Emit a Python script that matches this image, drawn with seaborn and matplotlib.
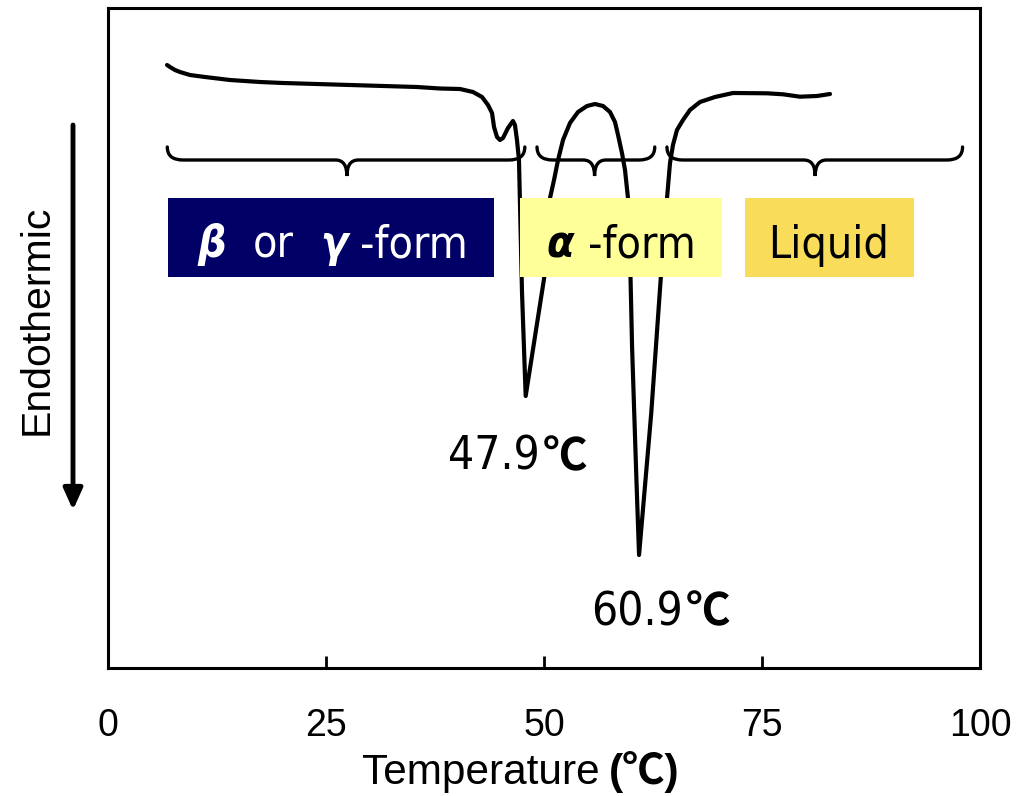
import matplotlib
matplotlib.use("Agg")
import matplotlib.pyplot as plt
import numpy as np
import pandas as pd
import seaborn as sns
from matplotlib.path import Path
from matplotlib.patches import PathPatch, Rectangle, FancyArrowPatch

# DSC heating trace (temperature in deg C, heat flow in arbitrary units, endotherm downward)
temperature = [6.77, 7.11, 7.68, 8.26, 9.40, 11.12, 13.99, 17.43, 20.07, 27.75,
               35.44, 38.07, 40.37, 41.86, 42.89, 43.58, 44.04, 44.27, 44.61, 44.95,
               45.30, 45.87, 46.44, 46.67, 46.90, 47.13, 47.48, 47.90, 50.34, 50.69,
               51.15, 51.61, 52.18, 52.98, 53.90, 54.93, 55.85, 56.77, 57.57, 58.14,
               58.49, 58.94, 59.29, 59.63, 59.80, 60.10, 60.60, 60.90, 62.30, 63.40,
               63.85, 64.11, 64.45, 64.79, 65.25, 65.94, 66.74, 67.89, 69.61, 71.67,
               75.57, 77.41, 79.36, 81.31, 82.80]
heat_flow = [60.3, 60.1, 59.8, 59.6, 59.3, 59.1, 58.8, 58.6, 58.5, 58.3,
             58.1, 57.95, 57.9, 57.6, 57.1, 56.3, 55.5, 54.1, 53.1, 52.8,
             53.0, 54.0, 54.7, 54.3, 52.8, 50.8, 37.5, 27.2, 40.8, 47.0,
             48.8, 50.8, 52.8, 54.5, 55.6, 56.2, 56.4, 56.2, 55.6, 54.6,
             53.3, 51.5, 49.8, 47.0, 43.8, 32.1, 18.8, 11.3, 25.5, 39.1,
             43.8, 47.0, 50.5, 52.3, 53.8, 54.8, 55.8, 56.6, 57.1, 57.5,
             57.47, 57.37, 57.13, 57.2, 57.4]

# melting peaks
peak_temps = [47.9, 60.9]
peak_labels = ["47.9", "60.9"]

# phase regions: brace (start, end, tip) and label box (left, right)
brace_start = [6.8, 49.2, 64.1]
brace_end = [47.8, 62.7, 98.0]
brace_tip = [27.4, 55.8, 81.1]
box_left = [6.9, 47.25, 73.05]
box_right = [44.27, 70.41, 92.43]
box_colors = ["#000066", "#FFFF99", "#F9DC5A"]

xticks = [0, 25, 50, 75, 100]

sns.set_theme(style="white")
plt.rcParams["font.family"] = ["Liberation Sans", "Noto Sans CJK JP", "DejaVu Sans"]

W, H = 1027, 796
fig = plt.figure(figsize=(W / 100, H / 100), dpi=100)
fig.patch.set_facecolor("white")
ax = fig.add_axes([108 / W, 1 - 668 / H, 872 / W, 660 / H])
ax.set_facecolor("white")

df = pd.DataFrame({"temperature": temperature, "heat_flow": heat_flow})
sns.lineplot(data=df, x="temperature", y="heat_flow", sort=False, estimator=None,
             color="black", linewidth=3.0, ax=ax, zorder=2,
             solid_joinstyle="round", solid_capstyle="round")

ax.set_xlim(0, 100)
ax.set_ylim(0, 66)
ax.set_xticks(xticks)
ax.set_xticklabels([str(t) for t in xticks])
ax.set_yticks([])
ax.set_xlabel("")
ax.set_ylabel("")
ax.tick_params(axis="x", direction="in", length=9, width=2.0, colors="black",
               labelsize=27, pad=29, bottom=True)
for sp in ax.spines.values():
    sp.set_visible(True)
    sp.set_color("black")
    sp.set_linewidth(2.2)

# curly braces above the phase labels
y_end, y_flat, y_tip = 52.1, 50.8, 49.2
r_end, r_tip = 1.8, 1.3
for x0, x1, xm in zip(brace_start, brace_end, brace_tip):
    verts = [(x0, y_end), (x0, y_flat), (x0 + r_end, y_flat),
             (xm - r_tip, y_flat),
             (xm, y_flat), (xm, y_tip),
             (xm, y_flat), (xm + r_tip, y_flat),
             (x1 - r_end, y_flat),
             (x1, y_flat), (x1, y_end)]
    codes = [Path.MOVETO, Path.CURVE3, Path.CURVE3,
             Path.LINETO,
             Path.CURVE3, Path.CURVE3,
             Path.CURVE3, Path.CURVE3,
             Path.LINETO,
             Path.CURVE3, Path.CURVE3]
    ax.add_patch(PathPatch(Path(verts, codes), facecolor="none", edgecolor="black",
                           linewidth=2.4, capstyle="round", zorder=2))

# phase label boxes
box_bottom, box_top = 39.1, 47.0
for l, r, c in zip(box_left, box_right, box_colors):
    ax.add_patch(Rectangle((l, box_bottom), r - l, box_top - box_bottom,
                           facecolor=c, edgecolor="none", zorder=3))

lab_font = dict(family=["DejaVu Sans"], fontstretch="condensed", fontsize=32, zorder=4,
                va="baseline")
greek = dict(lab_font, fontweight="bold", fontstyle="italic")
ax.text(10.21, 41.1, "β", color="white", ha="left", **greek)
ax.text(16.63, 41.1, "or", color="white", ha="left", **lab_font)
ax.text(24.30, 41.1, "γ", color="white", ha="left", **greek)
ax.text(28.90, 41.1, "-form", color="white", ha="left", **lab_font)
ax.text(50.34, 41.1, "α", color="black", ha="left", **greek)
ax.text(55.05, 41.1, "-form", color="black", ha="left", **lab_font)
ax.text(82.68, 41.0, "Liquid", color="black", ha="center", **lab_font)

# peak temperature labels
label_x = [49.54, 65.94]
label_y = [19.8, 4.3]
for lx, ly, txt in zip(label_x, label_y, peak_labels):
    ax.text(lx, ly, txt, ha="right", va="baseline", fontsize=33,
            family=["DejaVu Sans"], fontstretch="condensed", color="black")
    ax.text(lx + 0.3, ly, "℃", ha="left", va="baseline", fontsize=32,
            family=["Noto Sans CJK JP"], fontweight="bold", color="black")

# axis titles
fig.text(600 / W, 1 - 784 / H, "Temperature", ha="right", va="baseline",
         fontsize=30.5, color="black")
fig.text(609 / W, 1 - 784 / H, "(℃)", ha="left", va="baseline", fontsize=30.5,
         fontweight="bold", family=["Liberation Sans", "Noto Sans CJK JP"], color="black")
fig.text(37 / W, 1 - 320 / H, "Endothermic", rotation=90, ha="center", va="center",
         fontsize=29.5, color="black")
fig.add_artist(FancyArrowPatch((73 / W, 1 - 125 / H), (73 / W, 1 - 510 / H),
                               transform=fig.transFigure,
                               arrowstyle="-|>,head_length=0.4,head_width=0.18",
                               mutation_scale=32, linewidth=3.5, color="black",
                               shrinkA=0, shrinkB=0))

fig.savefig("out.png", dpi=100, facecolor="white")
